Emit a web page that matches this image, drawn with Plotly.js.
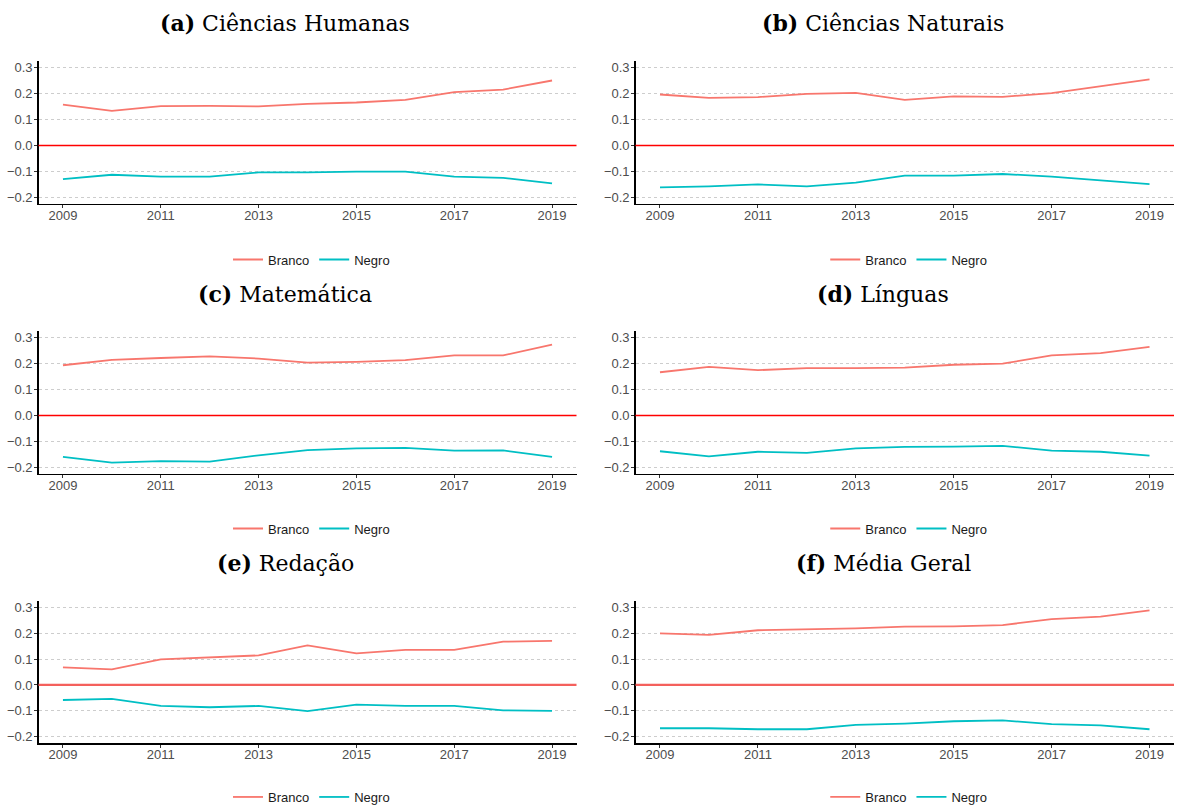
<!DOCTYPE html>
<html>
<head>
<meta charset="utf-8">
<script src="https://cdn.plot.ly/plotly-3.0.1.min.js"></script>
<style>html,body{margin:0;padding:0;background:#fff;}#chart{width:1178px;height:812px;}</style>
</head>
<body>
<div id="chart"></div>
<script>
// ---- data ----
const years = [2009, 2010, 2011, 2012, 2013, 2014, 2015, 2016, 2017, 2018, 2019];
const xTickVals = [2009, 2011, 2013, 2015, 2017, 2019];
const yTickVals = [-0.2, -0.1, 0.0, 0.1, 0.2, 0.3];
const seriesNames = ["Branco", "Negro"];
const referenceLevel = 0;

const panelLabels = ["(a)", "(b)", "(c)", "(d)", "(e)", "(f)"];
const panelTitles = ["Ciências Humanas", "Ciências Naturais", "Matemática", "Línguas", "Redação", "Média Geral"];

const branco_a = [0.158, 0.134, 0.152, 0.153, 0.151, 0.161, 0.166, 0.176, 0.206, 0.216, 0.251];
const negro_a  = [-0.130, -0.113, -0.120, -0.120, -0.104, -0.104, -0.101, -0.101, -0.120, -0.125, -0.146];

const branco_b = [0.197, 0.184, 0.187, 0.199, 0.203, 0.176, 0.190, 0.188, 0.202, 0.228, 0.255];
const negro_b  = [-0.162, -0.158, -0.150, -0.158, -0.143, -0.116, -0.116, -0.110, -0.120, -0.134, -0.149];

const branco_c = [0.194, 0.215, 0.222, 0.228, 0.220, 0.204, 0.207, 0.214, 0.232, 0.232, 0.274];
const negro_c  = [-0.160, -0.182, -0.176, -0.178, -0.154, -0.134, -0.127, -0.125, -0.136, -0.135, -0.160];

const branco_d = [0.167, 0.188, 0.175, 0.183, 0.183, 0.185, 0.196, 0.200, 0.232, 0.241, 0.265];
const negro_d  = [-0.138, -0.158, -0.140, -0.144, -0.127, -0.121, -0.120, -0.117, -0.136, -0.140, -0.155];

const branco_e = [0.068, 0.060, 0.099, 0.106, 0.114, 0.153, 0.122, 0.135, 0.135, 0.167, 0.170];
const negro_e  = [-0.058, -0.054, -0.081, -0.086, -0.081, -0.101, -0.076, -0.081, -0.081, -0.098, -0.100];

const branco_f = [0.199, 0.193, 0.211, 0.214, 0.218, 0.225, 0.226, 0.231, 0.254, 0.264, 0.288];
const negro_f  = [-0.167, -0.167, -0.171, -0.171, -0.154, -0.149, -0.140, -0.137, -0.151, -0.156, -0.171];

const brancoSeries = [branco_a, branco_b, branco_c, branco_d, branco_e, branco_f];
const negroSeries  = [negro_a, negro_b, negro_c, negro_d, negro_e, negro_f];

// ---- styling / layout ----
const W = 1178, H = 812;
const colColors = ["#F8766D", "#00BFC4"];
const colX = [[38.5, 576.5], [635.5, 1174]];           // px, left-right
const rowY = [[61.8, 205.3], [333.8, 477.3], [605.2, 748.8]]; // px, top-bottom
const titleCenterX = [285, 883];
const titleCenterY = [23, 296, 567];
const legendCenterY = [261.5, 532.5, 803];
const refWidths = [1.5, 1.5, 1.5, 1.5, 2.2, 2.2];
const refColors = ["#ff0000", "#ff0000", "#ff0000", "#ff0000", "#f4605c", "#f4605c"];

const px2x = p => p / W;
const px2y = p => 1 - p / H;

const traces = [];
const layout = {
  width: W, height: H,
  margin: {l: 0, r: 0, t: 0, b: 0},
  paper_bgcolor: "#ffffff",
  plot_bgcolor: "rgba(0,0,0,0)",
  showlegend: true,
  annotations: [],
  shapes: []
};

const tickFont = {family: "Liberation Sans, Arial, sans-serif", size: 13, color: "#4d4d4d"};

for (let i = 0; i < 6; i++) {
  const col = i % 2, row = Math.floor(i / 2);
  const n = i + 1;
  const xa = "xaxis" + (n === 1 ? "" : n), ya = "yaxis" + (n === 1 ? "" : n);
  const xr = "x" + (n === 1 ? "" : n), yr = "y" + (n === 1 ? "" : n);
  const lg = "legend" + (n === 1 ? "" : n);

  const data = [brancoSeries[i], negroSeries[i]];
  for (let s = 0; s < 2; s++) {
    traces.push({
      type: "scatter", mode: "lines",
      x: years, y: data[s], name: seriesNames[s],
      xaxis: xr, yaxis: yr, legend: lg,
      line: {color: colColors[s], width: 1.8},
      hoverinfo: "skip"
    });
  }

  layout[xa] = {
    domain: [px2x(colX[col][0]), px2x(colX[col][1])],
    anchor: yr,
    range: [2008.5, 2019.5],
    tickmode: "array", tickvals: xTickVals,
    showgrid: false, zeroline: false,
    showline: true, linecolor: "#000000", linewidth: 1.3,
    ticks: "outside", ticklen: 3, tickwidth: 1, tickcolor: "#333333",
    ticklabelstandoff: -4,
    tickfont: tickFont, fixedrange: true
  };
  layout[ya] = {
    domain: [px2y(rowY[row][1]), px2y(rowY[row][0])],
    anchor: xr,
    range: [-0.225, 0.325],
    tickmode: "array", tickvals: yTickVals, tickformat: ".1f",
    showgrid: true, gridcolor: "#cdcdcd", gridwidth: 1, griddash: "dot",
    zeroline: false,
    showline: true, linecolor: "#000000", linewidth: 1.3,
    ticks: "outside", ticklen: 3, tickwidth: 1, tickcolor: "#333333",
    ticklabelstandoff: -1,
    tickfont: tickFont, fixedrange: true
  };

  // horizontal reference line at y = 0
  layout.shapes.push({
    type: "line", layer: "above",
    xref: xr + " domain", x0: 0, x1: 1,
    yref: yr, y0: referenceLevel, y1: referenceLevel,
    line: {color: refColors[i], width: refWidths[i]}
  });

  layout[lg] = {
    orientation: "h",
    x: px2x((colX[col][0] + colX[col][1]) / 2 + 4), xanchor: "center",
    y: px2y(legendCenterY[row]), yanchor: "middle",
    font: {family: "Liberation Sans, Arial, sans-serif", size: 13, color: "#1a1a1a"},
    bgcolor: "rgba(0,0,0,0)", itemwidth: 30, tracegroupgap: 0
  };

  layout.annotations.push({
    xref: "paper", yref: "paper",
    x: px2x(titleCenterX[col]), y: px2y(titleCenterY[row]),
    xanchor: "center", yanchor: "middle",
    showarrow: false,
    text: "<b>" + panelLabels[i] + "</b> " + panelTitles[i],
    font: {family: "DejaVu Serif, Liberation Serif, serif", size: 22, color: "#000000"}
  });
}

Plotly.newPlot("chart", traces, layout, {staticPlot: true, displayModeBar: false});
</script>
</body>
</html>
